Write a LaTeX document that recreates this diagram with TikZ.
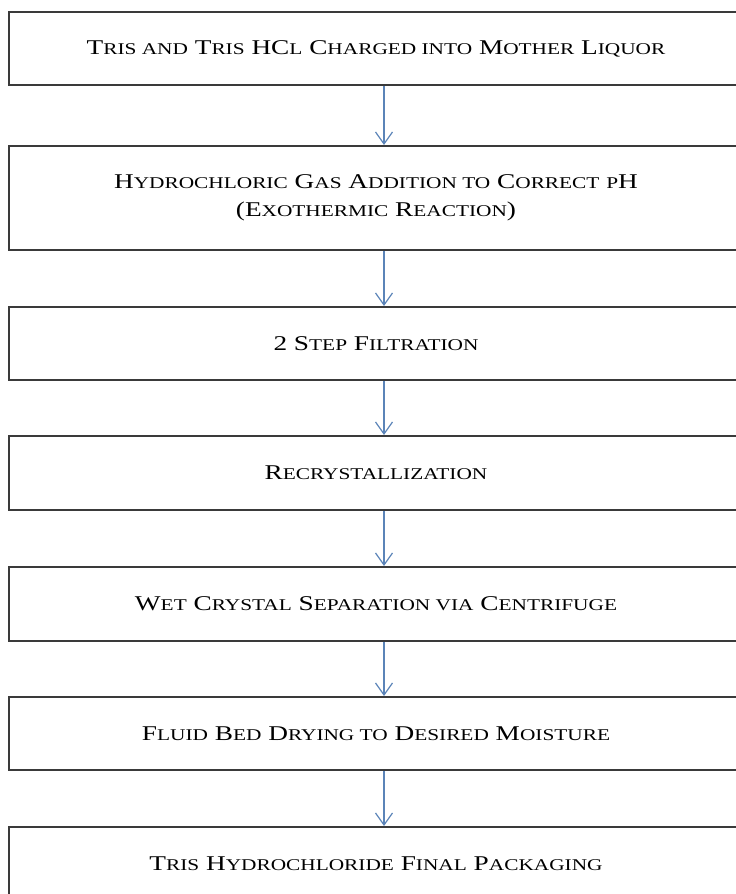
\documentclass[tikz,border=0pt]{standalone}
\usepackage{fontspec}
\setmainfont[FakeStretch=1.3]{Liberation Serif}
\usepackage{xcolor}
\usetikzlibrary{arrows.meta}
\definecolor{flowblue}{HTML}{5B84B8}
\definecolor{boxgray}{HTML}{3A3A3A}
% small capitals by hand
\newcommand{\scs}{\fontsize{16.4}{28}\selectfont}

\begin{document}
\begin{tikzpicture}[x=1pt, y=-1pt,
  stepbox/.style={rectangle, draw=boxgray, line width=2pt, fill=white, inner sep=0pt, minimum width=734pt, minimum height=73pt, anchor=north west, align=center, font=\fontsize{21}{28}\selectfont},
  flow/.style={draw=flowblue, line width=1.2pt, -{Straight Barb[length=12pt, width=17pt, line width=1.2pt]}}]

\useasboundingbox (0,0) rectangle (736,894);
\clip (0,0) rectangle (736,894);

\node at (8,11) [stepbox] (charge) {T{\scs RIS AND} T{\scs RIS} HC{\scs L} C{\scs HARGED INTO} M{\scs OTHER} L{\scs IQUOR}};
\node at (8,145) [stepbox, minimum height=104pt] (hclgas) {H{\scs YDROCHLORIC} G{\scs AS} A{\scs DDITION TO} C{\scs ORRECT} {\scs P}H\\(E{\scs XOTHERMIC} R{\scs EACTION})};
\node at (8,306) [stepbox] (filter) {2 S{\scs TEP} F{\scs ILTRATION}};
\node at (8,435) [stepbox, minimum height=74pt] (recryst) {R{\scs ECRYSTALLIZATION}};
\node at (8,566) [stepbox, minimum height=74pt] (centri) {W{\scs ET} C{\scs RYSTAL} S{\scs EPARATION VIA} C{\scs ENTRIFUGE}};
\node at (8,696) [stepbox] (drying) {F{\scs LUID} B{\scs ED} D{\scs RYING TO} D{\scs ESIRED} M{\scs OISTURE}};
\node at (8,826) [stepbox, minimum height=74pt] (packing) {T{\scs RIS} H{\scs YDROCHLORIDE} F{\scs INAL} P{\scs ACKAGING}};

% arrows sit a little right of the box centres
\draw[flow] ([xshift=8pt]charge.south) -- ([xshift=8pt]hclgas.north);
\draw[flow] ([xshift=8pt]hclgas.south) -- ([xshift=8pt]filter.north);
\draw[flow] ([xshift=8pt]filter.south) -- ([xshift=8pt]recryst.north);
\draw[flow] ([xshift=8pt]recryst.south) -- ([xshift=8pt]centri.north);
\draw[flow] ([xshift=8pt]centri.south) -- ([xshift=8pt]drying.north);
\draw[flow] ([xshift=8pt]drying.south) -- ([xshift=8pt]packing.north);

\end{tikzpicture}
\end{document}
